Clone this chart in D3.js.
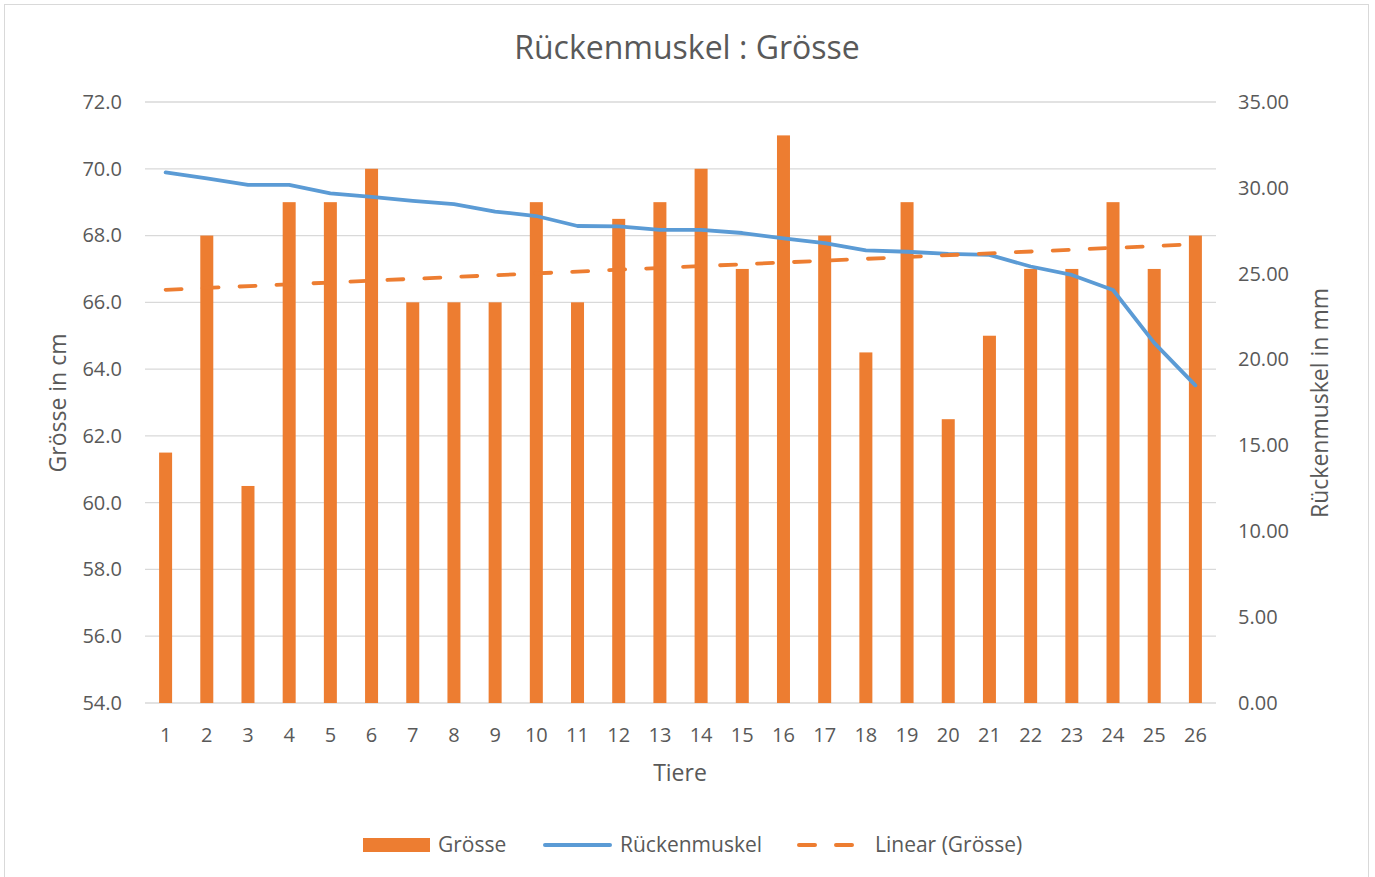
<!DOCTYPE html>
<html><head><meta charset="utf-8">
<script src="https://cdn.jsdelivr.net/npm/d3@7"></script>
<style>body{margin:0;background:#fff;} svg{display:block;} text{font-family:"Open Sans",sans-serif;fill:#595959;}</style>
</head><body>
<svg id="c" width="1375" height="877"></svg>
<script>
const categories = ["1","2","3","4","5","6","7","8","9","10","11","12","13","14","15","16","17","18","19","20","21","22","23","24","25","26"];
const groesse = [61.5,68,60.5,69,69,70,66,66,66,69,66,68.5,69,70,67,71,68,64.5,69,62.5,65,67,67,69,67,68];
const rueckenmuskel = [30.9,30.55,30.17,30.17,29.68,29.47,29.24,29.05,28.62,28.36,27.78,27.76,27.55,27.55,27.37,27.06,26.78,26.36,26.28,26.15,26.1,25.42,24.93,24.05,20.97,18.5];
const leftTicks = [54,56,58,60,62,64,66,68,70,72];
const rightTicks = [0,5,10,15,20,25,30,35];

const svg = d3.select("#c");
const L=145, R=1216, T=102, B=703;
const orange="#ED7D31", blue="#5B9BD5";

svg.append("rect").attr("x",4.5).attr("y",4.5).attr("width",1364).attr("height",880).attr("fill","#fff").attr("stroke","#D9D9D9");

const x = d3.scaleBand().domain(categories).range([L,R]).paddingInner(0).paddingOuter(0);
const yL = d3.scaleLinear().domain([54,72]).range([B,T]);
const yR = d3.scaleLinear().domain([0,35]).range([B,T]);

// gridlines
svg.append("g").selectAll("line").data(leftTicks).join("line")
  .attr("x1",L).attr("x2",R).attr("y1",d=>yL(d)).attr("y2",d=>yL(d))
  .attr("stroke","#D9D9D9").attr("stroke-width",1.3);

const fs = "20px";
const axL = d3.axisLeft(yL).tickValues(leftTicks).tickFormat(d3.format(".1f")).tickSize(0).tickPadding(23);
const gL = svg.append("g").attr("transform",`translate(${L},0)`).call(axL);
gL.select(".domain").remove();
gL.selectAll("text").style("font-size",fs).attr("fill","#595959");

const axR = d3.axisRight(yR).tickValues(rightTicks).tickFormat(d3.format(".2f")).tickSize(0).tickPadding(22);
const gR = svg.append("g").attr("transform",`translate(${R},0)`).call(axR);
gR.select(".domain").remove();
gR.selectAll("text").style("font-size",fs).attr("fill","#595959");

const axX = d3.axisBottom(x).tickSize(0).tickPadding(25);
const gX = svg.append("g").attr("transform",`translate(0,${B})`).call(axX);
gX.select(".domain").remove();
gX.selectAll("text").style("font-size",fs).attr("fill","#595959");

// bars
const bw = 13;
svg.append("g").selectAll("rect").data(groesse).join("rect")
  .attr("x",(d,i)=>x(categories[i])+x.bandwidth()/2-bw/2)
  .attr("width",bw)
  .attr("y",d=>yL(d)).attr("height",d=>B-yL(d))
  .attr("fill",orange);

// rueckenmuskel line
const line = d3.line().x((d,i)=>x(categories[i])+x.bandwidth()/2).y(d=>yR(d));
svg.append("path").datum(rueckenmuskel).attr("d",line)
  .attr("fill","none").attr("stroke",blue).attr("stroke-width",3.8).attr("stroke-linejoin","round").attr("stroke-linecap","round");

// linear trend of groesse (least squares)
const n = groesse.length;
const xs = groesse.map((d,i)=>i+1);
const mx = d3.mean(xs), my = d3.mean(groesse);
const slope = d3.sum(xs.map((xi,i)=>(xi-mx)*(groesse[i]-my)))/d3.sum(xs.map(xi=>(xi-mx)**2));
const icpt = my - slope*mx;
const cx0 = x(categories[0])+x.bandwidth()/2, cx1 = x(categories[n-1])+x.bandwidth()/2;
svg.append("line").attr("x1",cx0).attr("x2",cx1)
  .attr("y1",yL(icpt+slope*1)).attr("y2",yL(icpt+slope*n))
  .attr("stroke",orange).attr("stroke-width",3.8).attr("stroke-linecap","round").attr("stroke-dasharray","16,21");

// title
svg.append("text").attr("x",687).attr("y",59).attr("text-anchor","middle").style("font-size","32px").text("Rückenmuskel : Grösse");

// axis titles
svg.append("text").attr("x",680).attr("y",781).attr("text-anchor","middle").style("font-size","23px").text("Tiere");
svg.append("text").attr("transform","translate(66,403) rotate(-90)").attr("text-anchor","middle").style("font-size","23px").text("Grösse in cm");
svg.append("text").attr("transform","translate(1328,403) rotate(-90)").attr("text-anchor","middle").style("font-size","23px").text("Rückenmuskel in mm");

// legend
const lg = svg.append("g");
const lfs = "21px";
lg.append("rect").attr("x",363).attr("y",838).attr("width",67).attr("height",14).attr("fill",orange);
lg.append("text").attr("x",438).attr("y",852).style("font-size",lfs).text("Grösse");
lg.append("line").attr("x1",545).attr("x2",610).attr("y1",845).attr("y2",845).attr("stroke",blue).attr("stroke-width",4).attr("stroke-linecap","round");
lg.append("text").attr("x",620).attr("y",852).style("font-size",lfs).text("Rückenmuskel");
lg.append("line").attr("x1",799).attr("x2",855).attr("y1",845).attr("y2",845).attr("stroke",orange).attr("stroke-width",4).attr("stroke-linecap","round").attr("stroke-dasharray","16,21");
lg.append("text").attr("x",875).attr("y",852).style("font-size",lfs).text("Linear (Grösse)");
</script>
</body></html>
